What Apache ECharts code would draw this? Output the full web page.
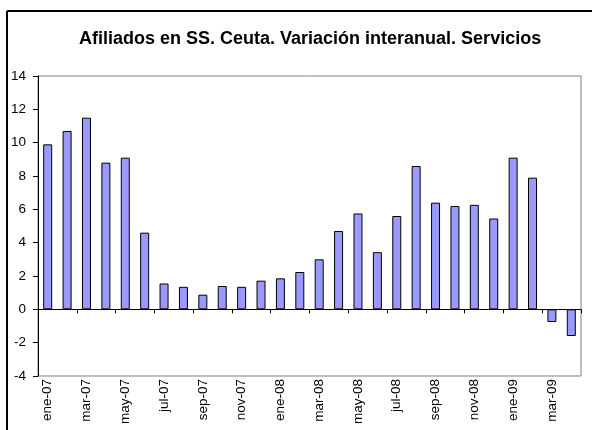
<!DOCTYPE html>
<html><head><meta charset="utf-8">
<script src="https://cdn.jsdelivr.net/npm/echarts@6/dist/echarts.min.js"></script>
<style>html,body{margin:0;padding:0;background:#fff}#c{width:592px;height:430px}</style>
</head><body><div id="c"></div>
<script>
var categories = ["ene-07","feb-07","mar-07","abr-07","may-07","jun-07","jul-07","ago-07","sep-07","oct-07","nov-07","dic-07",
"ene-08","feb-08","mar-08","abr-08","may-08","jun-08","jul-08","ago-08","sep-08","oct-08","nov-08","dic-08",
"ene-09","feb-09","mar-09","abr-09"];
var values = [9.9,10.7,11.5,8.8,9.1,4.6,1.55,1.35,0.88,1.4,1.35,1.72,
1.86,2.24,3.0,4.7,5.75,3.43,5.6,8.6,6.4,6.2,6.27,5.45,
9.1,7.9,-0.76,-1.6];
var yTicks = {min:-4,max:14,interval:2};
var titleText = "Afiliados en SS. Ceuta. Variación interanual. Servicios";

var chart = echarts.init(document.getElementById('c'), null, {renderer:'canvas'});
chart.setOption({
  animation:false,
  backgroundColor:'#fff',
  title:{text:titleText,left:74,top:25,textStyle:{fontFamily:'Liberation Sans, Arial',fontSize:18,fontWeight:'bold',color:'#000'}},
  graphic:[
    {type:'line',shape:{x1:7,y1:11,x2:600,y2:11},style:{stroke:'#000',lineWidth:2}},
    {type:'line',shape:{x1:7,y1:11,x2:7,y2:440},style:{stroke:'#000',lineWidth:2}}
  ],
  grid:{left:38,right:11,top:76,bottom:54,show:true,borderColor:'#808080',borderWidth:1,backgroundColor:'transparent'},
  xAxis:[
    {type:'category',data:categories,position:'bottom',axisLine:{onZero:true,lineStyle:{color:'#000',width:1}},
     axisTick:{show:true,interval:1,length:4,lineStyle:{color:'#000'}},axisLabel:{show:false},splitLine:{show:false}},
    {type:'category',data:categories,position:'bottom',axisLine:{show:false,onZero:false},axisTick:{show:false},
     axisLabel:{show:true,interval:1,rotate:90,margin:3,fontFamily:'Liberation Sans, Arial',fontSize:13.5,color:'#000'},splitLine:{show:false}}
  ],
  yAxis:{type:'value',min:yTicks.min,max:yTicks.max,interval:yTicks.interval,
    axisLine:{show:true,lineStyle:{color:'#000'}},axisTick:{show:true,length:5,lineStyle:{color:'#000'}},
    axisLabel:{fontFamily:'Liberation Sans, Arial',fontSize:13.5,color:'#000',margin:12},splitLine:{show:false}},
  series:[{type:'bar',data:values,xAxisIndex:0,barWidth:9,
    itemStyle:{color:'#9999FF',borderColor:'#000',borderWidth:1}}]
});
</script></body></html>
